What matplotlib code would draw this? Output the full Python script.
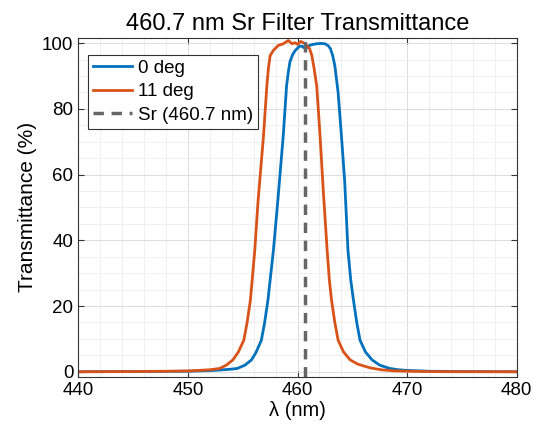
import numpy as np
import matplotlib.pyplot as plt
from matplotlib.ticker import MultipleLocator

plt.rcParams['font.family'] = ['Liberation Sans', 'DejaVu Sans']

# 0 deg filter curve
wl_0 = [440, 445, 448, 450, 451, 452, 453, 454, 454.5, 455.2, 455.8, 456.2, 456.7, 457.0,
        457.3, 457.8, 458.2, 458.4, 458.7, 459.0, 459.15, 459.3, 459.55, 459.8, 460.2,
        460.45, 460.7, 461.1, 461.4, 461.75, 462.1, 462.5, 462.8, 463.0, 463.2, 463.4,
        463.7, 464.0, 464.3, 464.6, 464.85, 465.1, 465.4, 465.7, 466.2, 466.8, 467.5,
        468.4, 469.2, 470, 472, 475, 480]
tr_0 = [0.0, 0.05, 0.1, 0.15, 0.25, 0.35, 0.55, 0.8, 1.0, 2.0, 3.6, 5.8, 9.6, 15.0,
        21.8, 37.0, 52.0, 60.0, 72.0, 87.0, 91.0, 94.2, 96.5, 97.8, 99.1,
        99.0, 98.3, 99.3, 99.6, 99.8, 99.9, 99.8, 99.2, 98.3, 96.3, 93.2,
        85.0, 72.0, 58.0, 37.0, 28.0, 21.8, 15.0, 9.6, 6.0, 3.6, 2.0,
        1.0, 0.6, 0.4, 0.15, 0.05, 0.0]

# 11 deg filter curve
wl_11 = [440, 445, 448, 450, 451, 452, 452.9, 453.5, 454.1, 454.6, 455.1, 455.4, 455.7,
         456.1, 456.4, 456.6, 456.9, 457.2, 457.35, 457.5, 457.8, 458.25, 458.7, 459.16,
         459.5, 459.77, 460.0, 460.3, 460.6, 460.84, 461.1, 461.3, 461.5, 461.75, 462.05,
         462.35, 462.7, 462.9, 463.1, 463.4, 463.7, 464.2, 464.8, 465.5, 466.6, 467.6,
         468.7, 470, 472, 475, 480]
tr_11 = [0.0, 0.05, 0.15, 0.25, 0.4, 0.6, 1.0, 2.0, 3.6, 6.0, 9.6, 15.0, 21.8,
         37.0, 52.0, 60.0, 72.0, 87.0, 92.5, 96.2, 97.8, 99.3, 99.8, 100.8,
         99.8, 100.1, 99.6, 100.5, 100.0, 99.3, 98.3, 96.3, 92.5, 87.0, 72.0,
         55.0, 37.0, 28.0, 21.8, 15.0, 9.6, 6.0, 3.6, 2.3, 1.2, 0.6,
         0.3, 0.15, 0.05, 0.0, 0.0]

sr_line = 460.7
x_ticks = [440, 450, 460, 470, 480]
y_ticks = [0, 20, 40, 60, 80, 100]

fig = plt.figure(figsize=(5.4, 4.29), dpi=100)
ax = fig.add_axes([0.145, 0.122, 0.812, 0.789])

ax.plot(wl_0, tr_0, color='#0072BD', lw=2.0, label='0 deg')
ax.plot(wl_11, tr_11, color='#D95319', lw=2.0, label='11 deg')
ax.axvline(sr_line, color='#666666', lw=2.5, ls=(0, (3, 2.2)), label='Sr (460.7 nm)')

ax.set_xlim(440, 480)
ax.set_ylim(-1.5, 101.5)
ax.set_xticks(x_ticks)
ax.set_yticks(y_ticks)
ax.xaxis.set_minor_locator(MultipleLocator(2))
ax.yaxis.set_minor_locator(MultipleLocator(5))
ax.grid(which='major', color='#dddddd', lw=0.7)
ax.grid(which='minor', color='#eeeeee', lw=0.6)
ax.set_axisbelow(True)
ax.tick_params(which='both', direction='in', top=True, right=True, labelsize=13.5,
               color='#333333')
ax.tick_params(which='minor', length=0)
ax.tick_params(which='major', length=4)
for s in ax.spines.values():
    s.set_color('#333333')
    s.set_linewidth(0.8)

ax.set_xlabel('λ (nm)', fontsize=14.5, labelpad=2)
ax.set_ylabel('Transmittance (%)', fontsize=15, labelpad=4)
ax.set_title('460.7 nm Sr Filter Transmittance', fontsize=17, pad=6)

leg = ax.legend(loc='upper left', bbox_to_anchor=(0.023, 0.951), fontsize=13.5,
                handlelength=2.1, handletextpad=0.3, borderpad=0.25, labelspacing=0.35,
                borderaxespad=0, fancybox=False, framealpha=1, edgecolor='#333333')
leg.get_frame().set_linewidth(0.8)

fig.savefig('out.png', dpi=100)
